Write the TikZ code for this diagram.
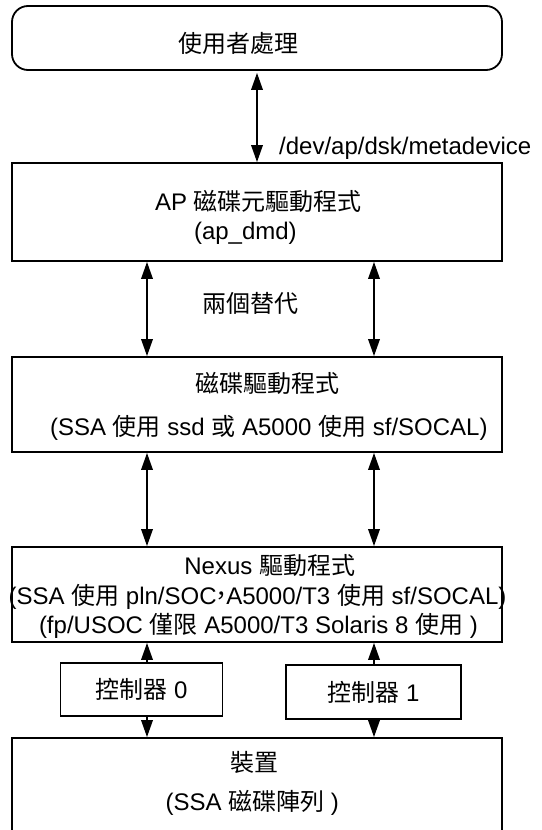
\documentclass[tikz,border=0pt]{standalone}
\usepackage{fontspec}
\setmainfont{Liberation Sans}
\newfontfamily\cjk{Noto Sans CJK TC}
\usetikzlibrary{arrows.meta}
\newcommand\zh[1]{{\cjk #1}}
\tikzset{
  bigbox/.style={draw, line width=1.8pt, minimum width=490pt, inner sep=0pt},
  ctrlbox/.style={draw, line width=1.1pt, inner sep=0pt, font=\fontsize{24pt}{29pt}\selectfont},
  txt/.style={anchor=base, inner sep=0pt, font=\fontsize{24pt}{29pt}\selectfont},
  biarrow/.style={line width=1.8pt, {Triangle[width=11.5pt,length=17pt]}-{Triangle[width=11.5pt,length=17pt]}},
  onearrow/.style={line width=1.8pt, -{Triangle[width=11.5pt,length=17pt]}},
}
\begin{document}
\begin{tikzpicture}[x=1pt,y=-1pt]
\fill[white] (0,0) rectangle (541,830);
\clip (0,0) rectangle (541,830);
\coordinate (L) at (147,0);
\coordinate (R) at (374,0);
% boxes
\node[bigbox, rounded corners=16pt, minimum height=64pt] (user) at (257,38) {};
\node[bigbox, minimum height=98pt] (ap) at (257,212) {};
\node[bigbox, minimum height=95pt] (disk) at (257,404.5) {};
\node[bigbox, minimum height=95pt] (nexus) at (257,594.5) {};
\node[bigbox, minimum height=112pt] (dev) at (257,794) {};
\node[ctrlbox, minimum width=161.6pt, minimum height=53pt] (c0) at (141.5,689.5) {\zh{控制器} 0};
\node[ctrlbox, minimum width=175pt, minimum height=54pt] (c1) at (373.5,692) {\zh{控制器} 1};
% texts
\node[txt] (tuser) at (238.5,52) {\zh{使用者處理}};
\node[txt, anchor=base west] (tpath) at (279,154) {/dev/ap/dsk/metadevice};
\node[txt] (tap1) at (258.4,210) {AP \zh{磁碟元驅動程式}};
\node[txt] (tap2) at (245.4,239) {(ap\_dmd)};
\node[txt] (talt) at (250.6,312) {\zh{兩個替代}};
\node[txt] (tdisk1) at (267,392) {\zh{磁碟驅動程式}};
\node[txt] (tdisk2) at (268.8,435) {(SSA \zh{使用} ssd \zh{或} A5000 \zh{使用} sf/SOCAL)};
\node[txt] (tnex1) at (269.7,574) {Nexus \zh{驅動程式}};
\node[txt] (tnex2) at (257.5,604) {(SSA \zh{使用} pln/SOC\kern-0.3em\zh{，}\kern-0.3em A5000/T3 \zh{使用} sf/SOCAL)};
\node[txt] (tnex3) at (258.4,633) {(fp/USOC \zh{僅限} A5000/T3 Solaris 8 \zh{使用} )};
\node[txt] (tdev1) at (254,771) {\zh{裝置}};
\node[txt] (tdev2) at (252.3,810) {(SSA \zh{磁碟陣列} )};
% connectors
\draw[biarrow, shorten <=2pt] (user.south) -- (ap.north);
\draw[biarrow] (ap.south -| L) -- (disk.north -| L);
\draw[biarrow] (ap.south -| R) -- (disk.north -| R);
\draw[biarrow] (disk.south -| L) -- (nexus.north -| L);
\draw[biarrow] (disk.south -| R) -- (nexus.north -| R);
\draw[onearrow] (c0.north -| L) -- (nexus.south -| L);
\draw[onearrow] (c0.south -| L) -- (dev.north -| L);
\draw[onearrow] (c1.north -| R) -- (nexus.south -| R);
\draw[onearrow] (c1.south -| R) -- (dev.north -| R);
\end{tikzpicture}
\end{document}
